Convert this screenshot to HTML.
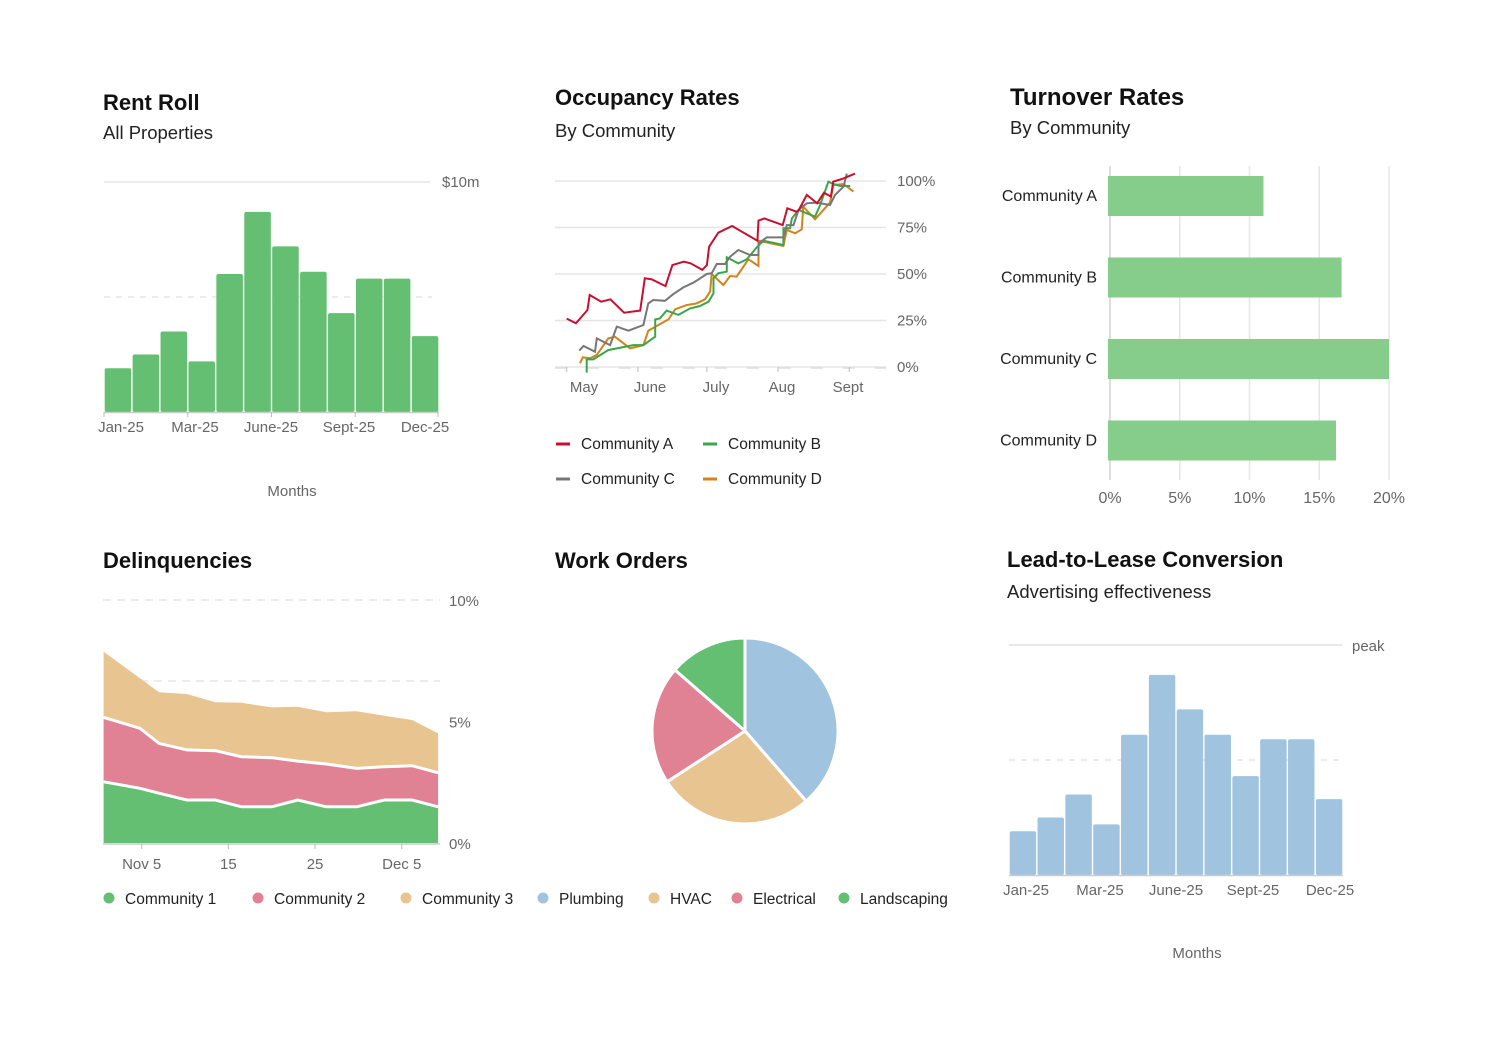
<!DOCTYPE html>
<html><head><meta charset="utf-8"><style>
body{margin:0;background:#fff;}
svg{display:block;font-family:"Liberation Sans",sans-serif;}
.t{font-weight:bold;font-size:22px;fill:#111}
.s{font-size:18.5px;fill:#222}
.ax{font-size:15px;fill:#666}
.lg{font-size:15.5px;fill:#222}
.cat{font-size:16px;fill:#222}
</style></head><body>
<svg id="root" width="1491" height="1044" viewBox="0 0 1491 1044">
<g id="rent">
<text class="t" x="103" y="110">Rent Roll</text>
<text class="s" x="103" y="139">All Properties</text>
<text class="ax" x="292" y="496" text-anchor="middle">Months</text>
</g>
<g id="occ">
<text class="t" x="555" y="105">Occupancy Rates</text>
<text class="s" x="555" y="137">By Community</text>
</g>
<g id="turn">
<text class="t" x="1010" y="105" style="font-size:24px">Turnover Rates</text>
<text class="s" x="1010" y="134">By Community</text>
</g>
<g id="del">
<text class="t" x="103" y="568">Delinquencies</text>
</g>
<g id="pie">
<text class="t" x="555" y="568">Work Orders</text>
</g>
<g id="lead">
<text class="t" x="1007" y="567">Lead-to-Lease Conversion</text>
<text class="s" x="1007" y="598">Advertising effectiveness</text>
<text class="ax" x="1197" y="958" text-anchor="middle">Months</text>
</g>
<g id="legend"></g>
</svg>
<script>
// ---- data ----
const months = ["Jan","Feb","Mar","Apr","May","Jun","Jul","Aug","Sep","Oct","Nov","Dec"];
const rentValues = [1.9,2.5,3.5,2.2,6.0,8.7,7.2,6.1,4.3,5.8,5.8,3.3];
const rentTickLabels = ["Jan-25","Mar-25","June-25","Sept-25","Dec-25"];
const leadValues = [0.19,0.25,0.35,0.22,0.61,0.87,0.72,0.61,0.43,0.59,0.59,0.33];
const leadTickLabels = ["Jan-25","Mar-25","June-25","Sept-25","Dec-25"];

const occTickLabels = ["May","June","July","Aug","Sept"];
const occTickDays = [0,31,61,92,123];
const occYTicks = [0,25,50,75,100];
const occADays = [0,4,9,10,15,19,25,32,34,37,43,46,51,54,59,61,62,66,72,83,83.5,86,94,96,100,101,104.5,109,112,115,116,120.5,125.5];
const occAVals = [26,23.5,30.6,38.7,35.1,36.4,29.2,30.3,47.7,47.1,43.5,54.8,56.6,55.7,52.2,54.8,64.7,72.2,75.8,67.9,78.7,79.9,76.3,85.3,83.5,84.4,92.5,88,93.7,91.6,99.6,101.4,104];
const occBDays = [8.7,8.7,11.6,18,29,33.4,38.5,38.5,40.6,43.5,48.6,53.7,58,61.7,63.9,63.9,66,69.7,69.7,74.7,78.4,82.7,85.6,94.3,94.3,97.2,98,100.9,108.1,110.3,113.9,116.1,119,123.4];
const occBVals = [-3,4.1,4.1,9.1,11.8,11.8,16.3,25.6,26.2,30.3,28,31.5,32.8,35.1,39.6,47.7,50.4,51.3,59,55.7,57.9,64.3,67.9,65.6,74.6,74.6,79.9,84.4,80.8,87.1,99.6,98.4,97.3,97.3];
const occCDays = [5.5,7.3,12.3,13.1,18.9,21.8,26.9,33.4,35.5,37.7,42.8,46.4,50.8,55.1,58.8,60.9,63.1,65.3,68.9,71.1,74.7,79.8,83.5,83.5,87.1,94.3,95.8,98.7,100.9,104.5,108.9,114.6,116.8,120.5,121.9];
const occCVals = [8.8,11.3,8.2,15.4,11.8,21.7,19.5,22.6,34.2,36,35.6,39.2,42.8,45.3,48.2,50,50.4,55.4,55.4,59.3,62.9,60.2,60.2,66.5,69.7,69.7,76.3,76.3,84.4,88,88.4,87.1,92.5,97,104];
const occDDays = [5.8,7,10.2,13.1,18.1,21,27.6,33.4,35.5,44.3,47.2,52.2,56.6,60.2,62.4,63.1,68.2,71.1,74,79.1,83.5,83.5,94.3,95.8,99.4,102.3,103,108.1,114.6,116.1,120.5,124.8];
const occDVals = [2,5.2,4.7,6.5,15.4,16.3,10,11.8,19.5,25.6,31,33.3,34.2,36.4,40.5,50,44.1,48.9,48.6,57.9,54.3,67.9,65.1,73.7,71.9,74,86.2,79.4,88.4,97.8,98.4,94.3];
const occSeriesNames = ["Community A","Community B","Community C","Community D"];

const turnCategories = ["Community A","Community B","Community C","Community D"];
const turnValues = [11,16.6,20,16.2];
const turnTicks = [0,5,10,15,20];

const delDays = [0.6,4.8,7,10.2,13.5,16.5,20,23,26.3,29.8,33,36.2,39.2];
const delC1 = [2.52,2.25,2.05,1.77,1.77,1.49,1.49,1.77,1.49,1.49,1.77,1.77,1.49];
const delC2 = [2.65,2.47,2.05,2.06,2.03,2.06,2.02,1.60,1.76,1.58,1.37,1.41,1.40];
const delC3 = [2.70,2.06,2.10,2.30,1.99,2.22,2.07,2.24,2.13,2.35,2.10,1.88,1.62];
const delTickDays = [5,15,25,35];
const delTickLabels = ["Nov 5","15","25","Dec 5"];
const delYTicks = [0,5,10];

const pieLabels = ["Plumbing","HVAC","Electrical","Landscaping"];
const pieValues = [38.6,27.2,20.6,13.6];

const NS="http://www.w3.org/2000/svg";
function mk(parent,tag,attrs){const e=document.createElementNS(NS,tag);for(const k in attrs)e.setAttribute(k,attrs[k]);parent.appendChild(e);return e;}

// ---- Rent roll ----
(function(){
 const g=document.getElementById('rent');
 const x0=104,x1=439,y0=412,yTop=182,max=10;
 const y=v=>y0-(v/max)*(y0-yTop);
 const bw=(x1-x0)/months.length;
 let l=mk(g,'line',{x1:x0,x2:430,y1:y(10),y2:y(10),stroke:'#e6e6e6','stroke-width':1.5});
 
 l=mk(g,'line',{x1:x0,x2:432,y1:y(5),y2:y(5),stroke:'#e6e6e6','stroke-width':1.5,'stroke-dasharray':'6 6'});
 
 let t=mk(g,'text',{x:442,y:y(10)+5,class:'ax'});t.textContent='$10m';
 
 rentValues.forEach((v,i)=>{
  const r=mk(g,'rect',{x:x0+i*bw+0.7,y:y(v),width:bw-1.4,height:y0-y(v),rx:2,fill:'#64bf72'});
  
 });
 mk(g,'line',{x1:x0,x2:x1,y1:y0+.5,y2:y0+.5,stroke:'#ccc','stroke-width':1.5});
 const labX=[121,195,271,349,425];
 rentTickLabels.forEach((s,i)=>{
  const tx=x0+i*3*bw-(i==4?1:0);
  mk(g,'line',{x1:tx,x2:tx,y1:y0,y2:y0+5,stroke:'#bbb'});
  const e=mk(g,'text',{x:labX[i],y:432,class:'ax','text-anchor':'middle'});e.textContent=s;
  
 });
})();

// ---- Lead ----
(function(){
 const g=document.getElementById('lead');
 const x0=1009,x1=1343,y0=875,yTop=645;
 const y=v=>y0-v*(y0-yTop);
 const bw=(x1-x0)/months.length;
 let l=mk(g,'line',{x1:x0,x2:1342,y1:yTop,y2:yTop,stroke:'#e0e0e0','stroke-width':1.5});
 
 l=mk(g,'line',{x1:x0,x2:1342,y1:y(0.5),y2:y(0.5),stroke:'#e6e6e6','stroke-width':1.5,'stroke-dasharray':'6 6'});
 
 let t=mk(g,'text',{x:1352,y:yTop+6,class:'ax'});t.textContent='peak';
 
 leadValues.forEach((v,i)=>{
  const r=mk(g,'rect',{x:x0+i*bw+0.7,y:y(v),width:bw-1.4,height:y0-y(v),rx:2,fill:'#a0c3df'});
  
 });
 mk(g,'line',{x1:x0,x2:x1,y1:y0+.5,y2:y0+.5,stroke:'#ccc','stroke-width':1.5});
 const labX=[1026,1100,1176,1253,1330];
 leadTickLabels.forEach((s,i)=>{
  const e=mk(g,'text',{x:labX[i],y:895,class:'ax','text-anchor':'middle'});e.textContent=s;
  
 });
})();

// ---- Occupancy ----
(function(){
 const g=document.getElementById('occ');
 const xd=d=>566.7+d*(849.3-566.7)/123;
 const yv=v=>367-v*1.86;
 occYTicks.forEach(v=>{
  const l=mk(g,'line',{x1:555,x2:886,y1:yv(v),y2:yv(v),stroke:'#e6e6e6','stroke-width':1.5});
  
  const t=mk(g,'text',{x:897,y:yv(v)+5,class:'ax'});t.textContent=v+'%';
  
 });
 mk(g,'line',{x1:555,x2:886,y1:368,y2:368,stroke:'#ddd','stroke-width':1.5,'stroke-dasharray':'12 20'});
 const labX=[584,650,716,782,848];
 occTickDays.forEach((d,i)=>{
  mk(g,'line',{x1:xd(d),x2:xd(d),y1:367,y2:372,stroke:'#bbb'});
  const t=mk(g,'text',{x:labX[i],y:392,class:'ax','text-anchor':'middle'});t.textContent=occTickLabels[i];
  
 });
 const series=[[occADays,occAVals,'#c8102e'],[occBDays,occBVals,'#3aa64a'],[occCDays,occCVals,'#777'],[occDDays,occDVals,'#d4821a']];
 const order=[3,1,2,0];
 order.forEach(k=>{
  const [ds,vs,c]=series[k];
  const p=mk(g,'polyline',{points:ds.map((d,i)=>xd(d).toFixed(1)+','+yv(vs[i]).toFixed(1)).join(' '),fill:'none',stroke:c,'stroke-width':2});
  
  
 });
 const pos=[[556,444],[703,444],[556,479],[703,479]];
 const colsL=['#c8102e','#3aa64a','#777','#d4821a'];
 occSeriesNames.forEach((n,i)=>{
  const [lx,ly]=pos[i];
  const gi=mk(g,'g',{});
  
  mk(gi,'line',{x1:lx,x2:lx+14,y1:ly,y2:ly,stroke:colsL[i],'stroke-width':3});
  const t=mk(gi,'text',{x:lx+25,y:ly+5,class:'lg'});t.textContent=n;
 });
})();

// ---- Turnover ----
(function(){
 const g=document.getElementById('turn');
 const x=v=>1110+v*(1389-1110)/20;
 turnTicks.forEach(v=>{
  const l=mk(g,'line',{x1:x(v),x2:x(v),y1:166,y2:480,stroke:v==0?'#ddd':'#e6e6e6','stroke-width':v==0?2:1.5});
  
  const t=mk(g,'text',{x:x(v),y:503,class:'ax','text-anchor':'middle',style:'font-size:16px'});t.textContent=v+'%';
  
 });
 turnCategories.forEach((c,i)=>{
  const yc=196+i*81.5;
  const r=mk(g,'rect',{x:1108,y:yc-20,width:x(turnValues[i])-1108,height:40,fill:'#86cc8a'});
  
  const t=mk(g,'text',{x:1097,y:yc+5,class:'cat','text-anchor':'end'});t.textContent=c;
  
 });
})();

// ---- Delinquencies ----
(function(){
 const g=document.getElementById('del');
 const xd=d=>141.7+(d-5)*8.667;
 const yv=v=>843-v*24.3;
 let l=mk(g,'line',{x1:103,x2:440,y1:yv(10),y2:yv(10),stroke:'#e6e6e6','stroke-width':1.5,'stroke-dasharray':'8 6'});
 
 l=mk(g,'line',{x1:140,x2:440,y1:681,y2:681,stroke:'#e6e6e6','stroke-width':1.5,'stroke-dasharray':'8 6'});
 
 delYTicks.forEach(v=>{
  const t=mk(g,'text',{x:449,y:yv(v)+6,class:'ax'});t.textContent=v+'%';
  
 });
 const s1=delC1, s2=delC1.map((v,i)=>v+delC2[i]), s3=s2.map((v,i)=>v+delC3[i]);
 const layers=[[s3,s2,'#e8c491','community-3'],[s2,s1,'#e08294','community-2'],[s1,null,'#64bf72','community-1']];
 layers.forEach(([top,bot,c,n])=>{
  let pts=delDays.map((d,i)=>xd(d).toFixed(1)+','+yv(top[i]).toFixed(1));
  const b=delDays.map((d,i)=>xd(d).toFixed(1)+','+yv(bot?bot[i]:0).toFixed(1)).reverse();
  const p=mk(g,'polygon',{points:pts.concat(b).join(' '),fill:c});
  
 });
 [s2,s1].forEach(s=>{
  mk(g,'polyline',{points:delDays.map((d,i)=>xd(d).toFixed(1)+','+yv(s[i]).toFixed(1)).join(' '),fill:'none',stroke:'#fff','stroke-width':3});
 });
 mk(g,'line',{x1:103,x2:440,y1:844,y2:844,stroke:'#ccc','stroke-width':1.5});
 delTickDays.forEach((d,i)=>{
  mk(g,'line',{x1:xd(d),x2:xd(d),y1:844,y2:849,stroke:'#bbb'});
  const t=mk(g,'text',{x:xd(d),y:869,class:'ax','text-anchor':'middle'});t.textContent=delTickLabels[i];
  
 });
})();

// ---- Pie ----
(function(){
 const g=document.getElementById('pie');
 const cx=745,cy=731,r=93;
 const cols=['#a0c3df','#e8c491','#e08294','#64bf72'];
 const tot=pieValues.reduce((a,b)=>a+b,0);
 let a0=0;
 pieValues.forEach((v,i)=>{
  const a1=a0+v/tot*Math.PI*2;
  const p=(a)=>[cx+r*Math.sin(a),cy-r*Math.cos(a)];
  const [x0,y0]=p(a0),[x1,y1]=p(a1);
  const large=(a1-a0)>Math.PI?1:0;
  const s=mk(g,'path',{d:`M${cx},${cy}L${x0.toFixed(1)},${y0.toFixed(1)}A${r},${r} 0 ${large} 1 ${x1.toFixed(1)},${y1.toFixed(1)}Z`,fill:cols[i],stroke:'#fff','stroke-width':3,'stroke-linejoin':'round'});
  
  a0=a1;
 });
})();

// ---- Bottom legend ----
(function(){
 const g=document.getElementById('legend');
 const items=[["Community 1",'#64bf72',109],["Community 2",'#e08294',258],["Community 3",'#e8c491',406],["Plumbing",'#a0c3df',543],["HVAC",'#e8c491',654],["Electrical",'#e08294',737],["Landscaping",'#64bf72',844]];
 items.forEach(([n,c,x])=>{
  const gi=mk(g,'g',{});
  
  mk(gi,'circle',{cx:x,cy:898,r:5.5,fill:c});
  const t=mk(gi,'text',{x:x+16,y:904,class:'lg'});t.textContent=n;
 });
})();
</script>
</body></html>
